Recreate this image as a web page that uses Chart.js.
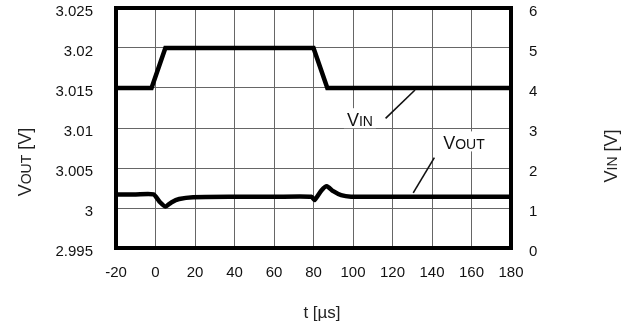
<!DOCTYPE html>
<html>
<head>
<meta charset="utf-8">
<script src="https://cdn.jsdelivr.net/npm/chart.js@4/dist/chart.umd.min.js"></script>
<style>
  body { margin: 0; background: #fff; }
  #wrap { width: 635px; height: 328px; }
</style>
</head>
<body>
<div id="wrap"><canvas id="chart" width="635" height="328"></canvas></div>
<script>
// dane
const xTicks = [-20, 0, 20, 40, 60, 80, 100, 120, 140, 160, 180];
const voutTicks = [2.995, 3, 3.005, 3.01, 3.015, 3.02, 3.025];
const vinTicks = [0, 1, 2, 3, 4, 5, 6];

// V_IN (oś prawa)
const vinT = [-20, -2, 5, 80, 87, 180];
const vinV = [4, 4, 5, 5, 4, 4];

// V_OUT (oś lewa)
const voutT = [-20, -10, -1, 2, 5, 8, 12, 19, 40, 60, 79, 80.5, 84, 86.7, 90, 94, 99, 120, 140, 160, 180];
const voutV = [3.0017, 3.0017, 3.0017, 3.0008, 3.00018, 3.0007, 3.00112, 3.00135, 3.0014, 3.0014, 3.0014, 3.0010, 3.0022, 3.00272, 3.0021, 3.0016, 3.00142, 3.0014, 3.0014, 3.0014, 3.0014];

// opisy (w jednostkach osi t i V_IN)
const labelVin = { t: 103.5, v: 3.22, main: 'V', sub: 'IN', lead: [[116.5, 3.24], [131.4, 3.95]] };
const labelVout = { t: 156.2, v: 2.64, main: 'V', sub: 'OUT', lead: [[141.2, 2.26], [130.5, 1.38]] };

const FONT = 'Liberation Sans, Arial, sans-serif';

const fmt = v => String(Number(v.toFixed(3)));

// tekst z indeksem w stylu "small caps"
function richWidth(ctx, parts) {
  let w = 0;
  parts.forEach(p => { ctx.font = p[1] + 'px ' + FONT; w += ctx.measureText(p[0]).width; });
  return w;
}
function drawRich(ctx, parts, x, y) {
  let cx = x;
  parts.forEach(p => {
    ctx.font = p[1] + 'px ' + FONT;
    ctx.fillText(p[0], cx, y);
    cx += ctx.measureText(p[0]).width;
  });
}

// bez dodatkowego marginesu od etykiet osi
const noPad = s => { s.paddingTop = 0; s.paddingBottom = 0; s.paddingLeft = 0; s.paddingRight = 0; };

const framePlugin = {
  id: 'frame',
  afterDatasetsDraw(chart) {
    const ctx = chart.ctx;
    const a = chart.chartArea;
    const xs = chart.scales.x, ys = chart.scales.y1;

    // opisy VIN / VOUT
    [labelVin, labelVout].forEach(l => {
      const px = xs.getPixelForValue(l.t);
      const py = ys.getPixelForValue(l.v);
      const parts = [[l.main, 18], [l.sub, 14]];
      const w = richWidth(ctx, parts);
      ctx.save();
      ctx.fillStyle = '#fff';
      ctx.fillRect(px - w / 2 - 3, py - 11, w + 6, 20);
      ctx.fillStyle = '#111';
      ctx.textBaseline = 'alphabetic';
      ctx.textAlign = 'left';
      drawRich(ctx, parts, px - w / 2, py + 7);
      ctx.strokeStyle = '#111';
      ctx.lineWidth = 1.6;
      ctx.beginPath();
      ctx.moveTo(xs.getPixelForValue(l.lead[0][0]), ys.getPixelForValue(l.lead[0][1]));
      ctx.lineTo(xs.getPixelForValue(l.lead[1][0]), ys.getPixelForValue(l.lead[1][1]));
      ctx.stroke();
      ctx.restore();
    });

    // ramka
    ctx.save();
    ctx.strokeStyle = '#000';
    ctx.lineWidth = 4;
    ctx.strokeRect(a.left, a.top, a.right - a.left, a.bottom - a.top);
    ctx.restore();
  },
  afterDraw(chart) {
    const ctx = chart.ctx;
    ctx.save();
    ctx.fillStyle = '#222';
    ctx.textBaseline = 'alphabetic';
    ctx.textAlign = 'left';

    // tytuł osi lewej
    let parts = [['V', 18], ['OUT', 14], [' [V]', 18]];
    let w = richWidth(ctx, parts);
    ctx.save();
    ctx.translate(31, 162);
    ctx.rotate(-Math.PI / 2);
    drawRich(ctx, parts, -w / 2, 0);
    ctx.restore();

    // tytuł osi prawej
    parts = [['V', 18], ['IN', 14], [' [V]', 18]];
    w = richWidth(ctx, parts);
    ctx.save();
    ctx.translate(617, 156);
    ctx.rotate(-Math.PI / 2);
    drawRich(ctx, parts, -w / 2, 0);
    ctx.restore();

    // tytuł osi X
    parts = [['t [\u00b5s]', 17]];
    w = richWidth(ctx, parts);
    drawRich(ctx, parts, 322 - w / 2, 318);
    ctx.restore();
  }
};

const tickFont = { family: FONT, size: 15 };
const gridColor = '#666';

new Chart(document.getElementById('chart'), {
  type: 'line',
  data: {
    datasets: [
      {
        label: 'VIN',
        yAxisID: 'y1',
        data: vinT.map((t, i) => ({ x: t, y: vinV[i] })),
        borderColor: '#000',
        borderWidth: 4.5,
        pointRadius: 0,
        tension: 0
      },
      {
        label: 'VOUT',
        yAxisID: 'y',
        data: voutT.map((t, i) => ({ x: t, y: voutV[i] })),
        borderColor: '#000',
        borderWidth: 4.5,
        pointRadius: 0,
        tension: 0.2
      }
    ]
  },
  options: {
    responsive: false,
    animation: false,
    devicePixelRatio: 1,
    layout: { padding: { top: 8, left: 0, right: 0, bottom: 0 } },
    plugins: { legend: { display: false }, tooltip: { enabled: false } },
    scales: {
      x: {
        type: 'linear',
        min: xTicks[0],
        max: xTicks[xTicks.length - 1],
        afterBuildTicks: s => { s.ticks = xTicks.map(v => ({ value: v })); },
        ticks: { font: tickFont, color: '#111', padding: 16, maxRotation: 0 },
        grid: { color: gridColor, lineWidth: 1, drawTicks: false },
        border: { display: false },
        afterFit: s => { s.height = 80; noPad(s); }
      },
      y: {
        position: 'left',
        min: voutTicks[0],
        max: voutTicks[voutTicks.length - 1],
        afterBuildTicks: s => { s.ticks = voutTicks.map(v => ({ value: v })); },
        ticks: { font: tickFont, color: '#111', padding: 23, labelOffset: 4, callback: v => fmt(v) },
        grid: { color: gridColor, lineWidth: 1, drawTicks: false },
        border: { display: false },
        afterFit: s => { s.width = 116; noPad(s); }
      },
      y1: {
        position: 'right',
        min: vinTicks[0],
        max: vinTicks[vinTicks.length - 1],
        afterBuildTicks: s => { s.ticks = vinTicks.map(v => ({ value: v })); },
        ticks: { font: tickFont, color: '#111', padding: 18, labelOffset: 4 },
        grid: { drawOnChartArea: false, drawTicks: false },
        border: { display: false },
        afterFit: s => { s.width = 124; noPad(s); }
      }
    }
  },
  plugins: [framePlugin]
});
</script>
</body>
</html>
